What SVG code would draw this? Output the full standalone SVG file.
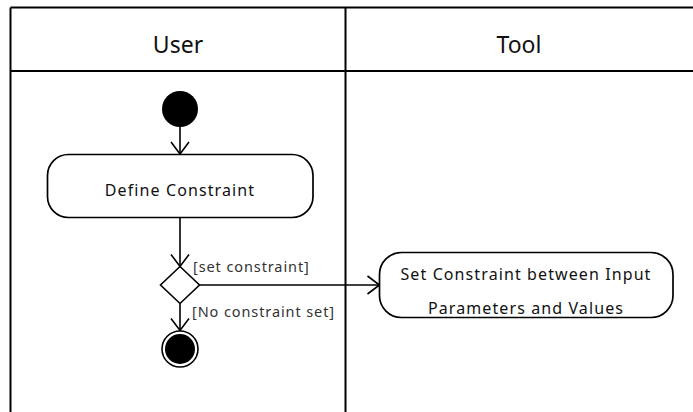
<svg xmlns="http://www.w3.org/2000/svg" width="693" height="412" viewBox="0 0 693 412">
  <style>
    .lane { stroke: #000; stroke-width: 2; fill: none; }
    .head { font-family: "Noto Sans", "Open Sans", sans-serif; font-size: 23px; fill: #111; text-anchor: middle; }
    .act { fill: #fff; stroke: #000; stroke-width: 1.7; }
    .lbl { font-family: "Noto Sans", "Open Sans", sans-serif; font-size: 16px; letter-spacing: 1.1px; fill: #111; text-anchor: middle; }
    .guard { font-family: "Noto Sans", "Open Sans", sans-serif; font-size: 14.5px; letter-spacing: 0.9px; fill: #333; }
    .edge { stroke: #000; stroke-width: 1.6; fill: none; }
  </style>
  <defs>
    <marker id="open" viewBox="0 0 14 20" refX="13" refY="10" markerWidth="14" markerHeight="20" markerUnits="userSpaceOnUse" orient="auto">
      <path d="M1,1 L13,10 L1,19" fill="none" stroke="#000" stroke-width="1.6"/>
    </marker>
  </defs>

  <rect width="693" height="412" fill="#fff"/>

  <!-- swimlane frame -->
  <g id="lanes">
    <line class="lane" x1="10.5" y1="7.5" x2="693" y2="7.5"/>
    <line class="lane" x1="10.5" y1="7.5" x2="10.5" y2="412"/>
    <line class="lane" x1="10.5" y1="71" x2="693" y2="71"/>
    <line class="lane" x1="345.5" y1="7.5" x2="345.5" y2="412"/>
    <text class="head" x="178" y="53">User</text>
    <text class="head" x="519" y="53">Tool</text>
  </g>

  <!-- connectors -->
  <g id="edges">
    <line class="edge" x1="180" y1="127" x2="180" y2="154" marker-end="url(#open)"/>
    <line class="edge" x1="180" y1="217.5" x2="180" y2="266.5" marker-end="url(#open)"/>
    <line class="edge" x1="199.5" y1="285" x2="379.5" y2="285" marker-end="url(#open)"/>
    <line class="edge" x1="180" y1="303.5" x2="180" y2="330.5" marker-end="url(#open)"/>
    <text class="guard" x="193" y="272">[set constraint]</text>
    <text class="guard" x="192" y="317">[No constraint set]</text>
  </g>

  <g id="start">
    <circle cx="180" cy="109" r="18" fill="#000"/>
  </g>

  <g id="define-constraint">
    <rect class="act" x="47.5" y="154.5" width="265.5" height="63" rx="21"/>
    <text class="lbl" x="180" y="196">Define Constraint</text>
  </g>

  <g id="decision">
    <polygon points="180,266.5 199.5,285 180,303.5 160.5,285" fill="#fff" stroke="#000" stroke-width="1.6"/>
  </g>

  <g id="end">
    <circle cx="180" cy="349" r="18" fill="#fff" stroke="#000" stroke-width="1.6"/>
    <circle cx="180" cy="349" r="15" fill="#000"/>
  </g>

  <g id="set-constraint">
    <rect class="act" x="379.5" y="252.5" width="293.5" height="65" rx="22"/>
    <text class="lbl" x="526" y="280">Set Constraint between Input</text>
    <text class="lbl" x="526" y="314">Parameters and Values</text>
  </g>
</svg>
